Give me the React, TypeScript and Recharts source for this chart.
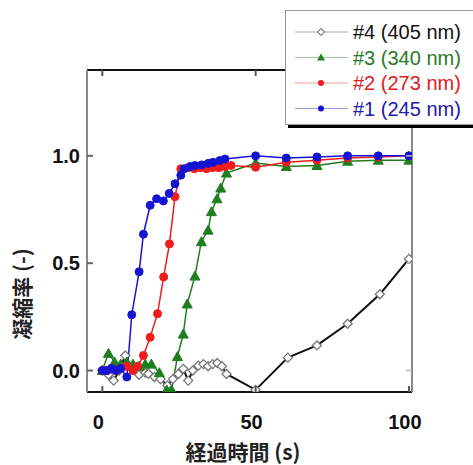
import { LineChart, Line, XAxis, YAxis, Legend } from "recharts";

// #1 (245 nm)
const t1 = [0, 1.5, 3, 4.5, 6, 8, 9.6, 12, 13.4, 15.6, 17.7, 19.9, 21.8, 23.7, 25.6, 26.7, 28.6, 30.2, 32.4, 34.5, 36.1, 38.3, 40, 50, 60, 70, 80, 90, 100];
const v1 = [0, 0, 0.01, 0, 0.01, -0.03, 0.26, 0.46, 0.635, 0.77, 0.8, 0.79, 0.825, 0.87, 0.91, 0.94, 0.95, 0.955, 0.958, 0.965, 0.97, 0.978, 0.985, 1.0, 0.99, 0.995, 1.0, 1.0, 1.0];
// #2 (273 nm)
const t2 = [0, 1.5, 3, 4.5, 6, 8, 10, 11.5, 13.4, 15.6, 18, 20, 21.9, 23.7, 25.6, 28, 30, 32, 34, 36, 38, 40, 42, 50, 60, 70, 80, 90, 100];
const v2 = [0, 0, 0.01, 0, 0.01, 0.02, 0.0, 0.02, 0.07, 0.155, 0.265, 0.436, 0.59, 0.81, 0.94, 0.945, 0.94, 0.945, 0.94, 0.945, 0.945, 0.95, 0.955, 0.947, 0.97, 0.98, 0.99, 0.995, 1.0];
// #3 (340 nm)
const t3 = [0, 2, 4, 6, 8, 10, 12, 14, 16, 18.6, 21, 22.6, 24.5, 26.4, 27.7, 30.2, 32.3, 34.5, 35.6, 37.4, 38.6, 40.5, 50, 60, 70, 80, 90, 100];
const v3 = [0, 0.08, 0.04, 0.03, 0.04, 0.03, 0.02, 0.03, 0.03, -0.01, -0.09, -0.09, 0.065, 0.17, 0.31, 0.44, 0.6, 0.654, 0.74, 0.8, 0.85, 0.92, 0.967, 0.95, 0.955, 0.975, 0.98, 0.98];
// #4 (405 nm)
const t4 = [0, 2, 3.7, 5.5, 7.5, 9.5, 12, 14, 15, 17, 19, 21.2, 23, 24.8, 26.4, 28, 29.5, 31.3, 33, 34.5, 36, 37.5, 39, 40.5, 50, 60.5, 70, 80, 90.5, 100];
const v4 = [0, -0.02, -0.047, 0.0, 0.07, 0.01, -0.02, -0.01, -0.015, -0.03, -0.04, -0.07, -0.04, -0.016, 0.008, -0.047, 0.0, 0.023, 0.03, 0.02, 0.03, 0.035, 0.02, -0.016, -0.09, 0.06, 0.117, 0.218, 0.355, 0.52];

const xTicks = [0, 50, 100];
const yTicks = [0, 0.5, 1.0];
const legendNames = ["#4 (405 nm)", "#3 (340 nm)", "#2 (273 nm)", "#1 (245 nm)"];
const xTitle = "経過時間 (s)";
const yTitle = "凝縮率 (-)";

const toPoints = (t: number[], v: number[]) => t.map((x, i) => ({ t: x, v: v[i] }));

const BLUE = "#1414d2";
const RED = "#f01c1c";
const GREEN = "#1f7f1f";

const tickFont = { fontFamily: "'Liberation Sans', Arial, sans-serif", fontSize: 20, fontWeight: 700, fill: "#111" };
const cjkFont = { fontFamily: "'Noto Sans CJK JP', sans-serif", fontSize: 21, fontWeight: 700, fill: "#222" };

const BottomTick = (props: any) => {
    const { x, y, payload } = props;
    return (
        <g>
            <line x1={x} x2={x} y1={y} y2={y - 6} stroke="#555" strokeWidth={2} />
            <text x={x - 4} y={y + 37} textAnchor="middle" style={tickFont}>{payload.value}</text>
        </g>
    );
};
const TopTick = (props: any) => {
    const { x, y } = props;
    return <line x1={x} x2={x} y1={y} y2={y + 6} stroke="#555" strokeWidth={2} />;
};
const LeftTick = (props: any) => {
    const { x, y, payload } = props;
    return (
        <g>
            <line x1={x} x2={x + 6} y1={y} y2={y} stroke="#666" strokeWidth={2} />
            <text x={x - 7} y={y + 7} textAnchor="end" style={tickFont}>{Number(payload.value).toFixed(1)}</text>
        </g>
    );
};
const RightTick = (props: any) => {
    const { x, y } = props;
    return <line x1={x} x2={x - 6} y1={y} y2={y} stroke="#bbb" strokeWidth={1.5} />;
};

const circleDot = (color: string) => (p: any) => (
    <circle key={p.index} cx={p.cx} cy={p.cy} r={4} fill={color} stroke={color} strokeWidth={1} />
);
const triDot = (p: any) => (
    <path key={p.index} d={`M${p.cx},${p.cy - 5}L${p.cx + 5},${p.cy + 4}L${p.cx - 5},${p.cy + 4}Z`} fill={GREEN} stroke={GREEN} strokeWidth={1} />
);
const diamondDot = (p: any) => (
    <path key={p.index} d={`M${p.cx},${p.cy - 4.5}L${p.cx + 4.5},${p.cy}L${p.cx},${p.cy + 4.5}L${p.cx - 4.5},${p.cy}Z`} fill="#fff" stroke="#777" strokeWidth={1.3} />
);

const legendRows = [
    { name: legendNames[0], color: "#111", line: "#aaa", marker: "diamond" },
    { name: legendNames[1], color: "#2a7a2a", line: "#9c9", marker: "tri" },
    { name: legendNames[2], color: "#e02020", line: "#f99", marker: "circle" },
    { name: legendNames[3], color: "#2020a8", line: "#99d", marker: "circleB" },
];

const LegendBox = () => (
    <div style={{ width: 196, height: 113, background: "#fff", border: "1px solid #999", boxShadow: "3px 3px 0 #000" }}>
        <svg width={196} height={113}>
            {legendRows.map((r, i) => {
                const y = 21 + i * 25.5;
                const cx = 35;
                let m;
                if (r.marker === "diamond") m = <path d={`M${cx},${y - 3.5}L${cx + 3.5},${y}L${cx},${y + 3.5}L${cx - 3.5},${y}Z`} fill="#fff" stroke="#888" strokeWidth={1.2} />;
                else if (r.marker === "tri") m = <path d={`M${cx},${y - 4}L${cx + 4},${y + 3}L${cx - 4},${y + 3}Z`} fill={GREEN} />;
                else m = <circle cx={cx} cy={y} r={3} fill={r.marker === "circle" ? RED : BLUE} />;
                return (
                    <g key={r.name}>
                        <line x1={9} x2={62} y1={y} y2={y} stroke={r.line} strokeWidth={1} />
                        {m}
                        <text x={67} y={y + 7} style={{ fontFamily: "'Liberation Sans', Arial, sans-serif", fontSize: 20, fill: r.color }}>{r.name}</text>
                    </g>
                );
            })}
        </svg>
    </div>
);

const App = () => {
    return (
        <div style={{ position: "absolute", top: 0, left: 0, width: 473, height: 465, overflow: "hidden", background: "#fff" }}>
            <LineChart width={473} height={465} margin={{ top: 69, right: 60, bottom: 13, left: 0 }}>
                <XAxis
                    dataKey="t"
                    type="number"
                    domain={[-5, 101]}
                    ticks={xTicks}
                    allowDataOverflow
                    height={60}
                    tickLine={false}
                    tickSize={0}
                    tickMargin={0}
                    tick={<BottomTick />}
                    axisLine={{ stroke: "#111", strokeWidth: 2 }}
                    label={{ content: () => <text x={243} y={460} textAnchor="middle" style={cjkFont}>{xTitle}</text> }}
                />
                <XAxis
                    xAxisId="top"
                    orientation="top"
                    dataKey="t"
                    type="number"
                    domain={[-5, 101]}
                    ticks={xTicks}
                    allowDataOverflow
                    height={1}
                    tickLine={false}
                    tickSize={0}
                    tickMargin={0}
                    tick={<TopTick />}
                    axisLine={{ stroke: "#111", strokeWidth: 2 }}
                />
                <YAxis
                    type="number"
                    domain={[-0.1, 1.4]}
                    ticks={yTicks}
                    allowDataOverflow
                    width={87}
                    tickLine={false}
                    tickSize={0}
                    tickMargin={0}
                    tick={<LeftTick />}
                    axisLine={{ stroke: "#888", strokeWidth: 2 }}
                    label={{
                        content: () => (
                            <text x={21} y={294} textAnchor="middle" dominantBaseline="central" transform="rotate(-90, 21, 294)" style={cjkFont}>{yTitle}</text>
                        ),
                    }}
                />
                <YAxis
                    yAxisId="r"
                    orientation="right"
                    type="number"
                    domain={[-0.1, 1.4]}
                    ticks={yTicks}
                    allowDataOverflow
                    width={1}
                    tickLine={false}
                    tickSize={0}
                    tickMargin={0}
                    tick={<RightTick />}
                    axisLine={{ stroke: "#888", strokeWidth: 2 }}
                />
                <Line data={toPoints(t4, v4)} dataKey="v" type="linear" stroke="#111" strokeWidth={2} dot={diamondDot} activeDot={false} isAnimationActive={false} />
                <Line data={toPoints(t3, v3)} dataKey="v" type="linear" stroke={GREEN} strokeWidth={1.5} dot={triDot} activeDot={false} isAnimationActive={false} />
                <Line data={toPoints(t2, v2)} dataKey="v" type="linear" stroke={RED} strokeWidth={1.5} dot={circleDot(RED)} activeDot={false} isAnimationActive={false} />
                <Line data={toPoints(t1, v1)} dataKey="v" type="linear" stroke={BLUE} strokeWidth={1.5} dot={circleDot(BLUE)} activeDot={false} isAnimationActive={false} />
                <Legend
                    layout="vertical"
                    align="center"
                    verticalAlign="middle"
                    content={() => <LegendBox />}
                    wrapperStyle={{ top: 10, left: 285, width: 200, height: 118 }}
                />
            </LineChart>
        </div>
    );
};

export default App;
